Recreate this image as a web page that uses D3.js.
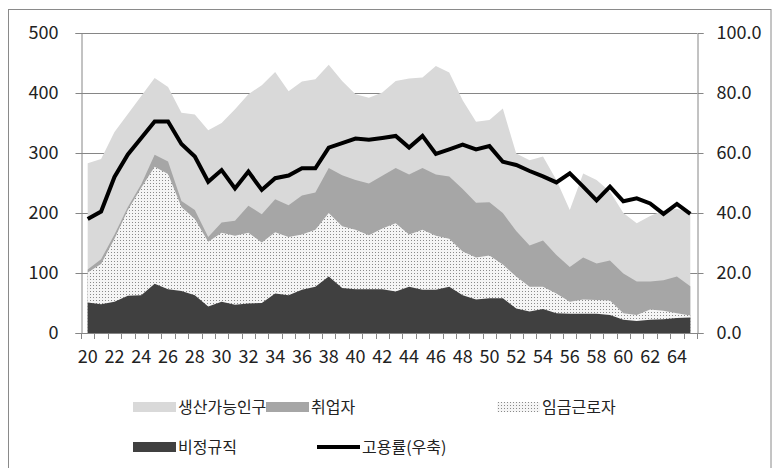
<!DOCTYPE html>
<html><head><meta charset="utf-8">
<script src="https://cdn.jsdelivr.net/npm/d3@7"></script>
<style>
html,body{margin:0;padding:0;background:#fff;}
svg{display:block;}
text{font-family:"Noto Sans CJK KR","Noto Sans",sans-serif;fill:#222;}
</style></head>
<body>
<svg id="c" width="774" height="468"></svg>
<script>
const ages = d3.range(20, 66);
const xLabels = [20,22,24,26,28,30,32,34,36,38,40,42,44,46,48,50,52,54,56,58,60,62,64];
const leftTicks = [0,100,200,300,400,500];
const rightTicks = [0,20,40,60,80,100];

const population = [283,290,335,365,395,425,410,367,364,338,350,373,398,413,435,403,419,423,447,420,398,392,401,420,424,426,445,434,388,352,355,374,299,288,294,255,205,266,255,236,200,183,195,204,207,200];
const employed   = [106,123,164,210,248,297,286,220,205,160,184,187,212,198,223,213,229,234,275,263,255,249,262,275,264,275,264,261,240,217,218,200,170,146,154,130,110,126,116,121,99,86,86,88,94,78];
const wage       = [101,115,157,205,242,277,265,210,190,152,167,162,167,151,168,160,164,172,200,178,172,163,174,183,164,172,162,157,136,126,129,114,94,77,77,66,52,56,55,54,33,30,39,37,33,29];
const nonregular = [51,48,52,62,63,82,73,70,63,44,52,47,49,50,66,63,72,77,94,75,73,73,73,69,77,72,72,77,63,56,58,58,41,36,40,33,32,32,32,30,22,20,22,23,25,26];
const empRate    = [38,40.5,52,59.5,65,70.5,70.5,63,58.8,50.4,54.3,48.2,53.8,47.7,51.6,52.5,54.9,54.9,61.8,63.3,64.8,64.4,65,65.7,61.8,65.7,59.7,61.2,62.8,61.2,62.3,57.1,56,54,52.2,50.2,53.2,48.8,44.2,48.8,43.9,44.9,43.2,39.7,43,39.7];

const seriesNames = ["생산가능인구","취업자","임금근로자","비정규직","고용률(우축)"];

const svg = d3.select("#c");
const L = 81, R = 697, T = 33, B = 333;
const axisColor = "#868686";
const FONT = '"Noto Sans CJK KR","Noto Sans",sans-serif';

// outer border
svg.append("rect").attr("x",8.5).attr("y",9.5).attr("width",762.5).attr("height",470)
  .attr("fill","none").attr("stroke","#8a8a8a").attr("stroke-width",1);

const x = d3.scaleBand().domain(ages).range([L, R]).paddingInner(0).paddingOuter(0);
const cx = a => x(a) + x.bandwidth()/2;
const yL = d3.scaleLinear().domain([0,500]).range([B,T]);
const yR = d3.scaleLinear().domain([0,100]).range([B,T]);

// dotted pattern for 임금근로자
const defs = svg.append("defs");
const pat = defs.append("pattern").attr("id","dots").attr("patternUnits","userSpaceOnUse")
  .attr("width",3).attr("height",3);
pat.append("rect").attr("width",3).attr("height",3).attr("fill","#f5f5f5");
pat.append("rect").attr("x",0).attr("y",0).attr("width",1).attr("height",1).attr("fill","#8a8a8a");

// gridlines
svg.append("g").selectAll("line").data(leftTicks).join("line")
  .attr("x1",L).attr("x2",R).attr("y1",d=>Math.round(yL(d))+0.5).attr("y2",d=>Math.round(yL(d))+0.5)
  .attr("stroke",axisColor).attr("stroke-width",1);

const area = vals => d3.area().x((d,i)=>cx(ages[i])).y0(yL(0)).y1(d=>yL(d))(vals);
const fills = ["#d9d9d9","#a6a6a6","url(#dots)","#404040"];
[population, employed, wage, nonregular].forEach((vals,k)=>{
  svg.append("path").attr("d", area(vals)).attr("fill", fills[k]);
});

// employment rate line
svg.append("path").datum(empRate)
  .attr("d", d3.line().x((d,i)=>cx(ages[i])).y(d=>yR(d)))
  .attr("fill","none").attr("stroke","#000").attr("stroke-width",4).attr("stroke-linejoin","miter");

// left axis
const gL = svg.append("g").attr("transform",`translate(${L+0.5},0)`)
  .call(d3.axisLeft(yL).tickValues(leftTicks).tickSize(6).tickPadding(17).tickFormat(d3.format("d")));
gL.select(".domain").attr("stroke",axisColor);
gL.selectAll(".tick line").attr("stroke",axisColor);
gL.selectAll("text").attr("font-size",18).attr("fill","#222").attr("font-family",FONT);

// right axis
const gR = svg.append("g").attr("transform",`translate(${R+0.5},0)`)
  .call(d3.axisRight(yR).tickValues(rightTicks).tickSize(6).tickPadding(13).tickFormat(d3.format(".1f")));
gR.select(".domain").attr("stroke",axisColor);
gR.selectAll(".tick line").attr("stroke",axisColor);
gR.selectAll("text").attr("font-size",18).attr("fill","#222").attr("font-family",FONT);

// bottom axis: baseline, tick marks at band edges, labels at centers
svg.append("line").attr("x1",L).attr("x2",R).attr("y1",B+0.5).attr("y2",B+0.5).attr("stroke",axisColor);
const edges = ages.map(a=>x(a)).concat([x(ages[ages.length-1])+x.bandwidth()]);
svg.append("g").selectAll("line").data(edges).join("line")
  .attr("x1",d=>Math.round(d)+0.5).attr("x2",d=>Math.round(d)+0.5).attr("y1",B).attr("y2",B+6)
  .attr("stroke",axisColor);
const gB = svg.append("g").attr("transform",`translate(0,${B})`)
  .call(d3.axisBottom(x).tickValues(xLabels).tickSize(0).tickPadding(17));
gB.select(".domain").remove();
gB.selectAll("text").attr("font-size",18).attr("fill","#222").attr("font-family",FONT);

// legend
const leg = svg.append("g");
const items = [
  {name:seriesNames[0], type:"rect", fill:fills[0], x:133, y:407},
  {name:seriesNames[1], type:"rect", fill:fills[1], x:266, y:407},
  {name:seriesNames[2], type:"rect", fill:fills[2], x:497, y:407},
  {name:seriesNames[3], type:"rect", fill:fills[3], x:133, y:447},
  {name:seriesNames[4], type:"line", x:317, y:447}
];
items.forEach(it=>{
  if(it.type==="rect"){
    leg.append("rect").attr("x",it.x).attr("y",it.y-5).attr("width",43).attr("height",10).attr("fill",it.fill);
  } else {
    leg.append("line").attr("x1",it.x).attr("x2",it.x+43).attr("y1",it.y).attr("y2",it.y)
      .attr("stroke","#000").attr("stroke-width",4);
  }
  leg.append("text").attr("x",it.x+45).attr("y",it.y).attr("dy","0.36em")
    .attr("font-size",16).text(it.name);
});
</script>
</body></html>
